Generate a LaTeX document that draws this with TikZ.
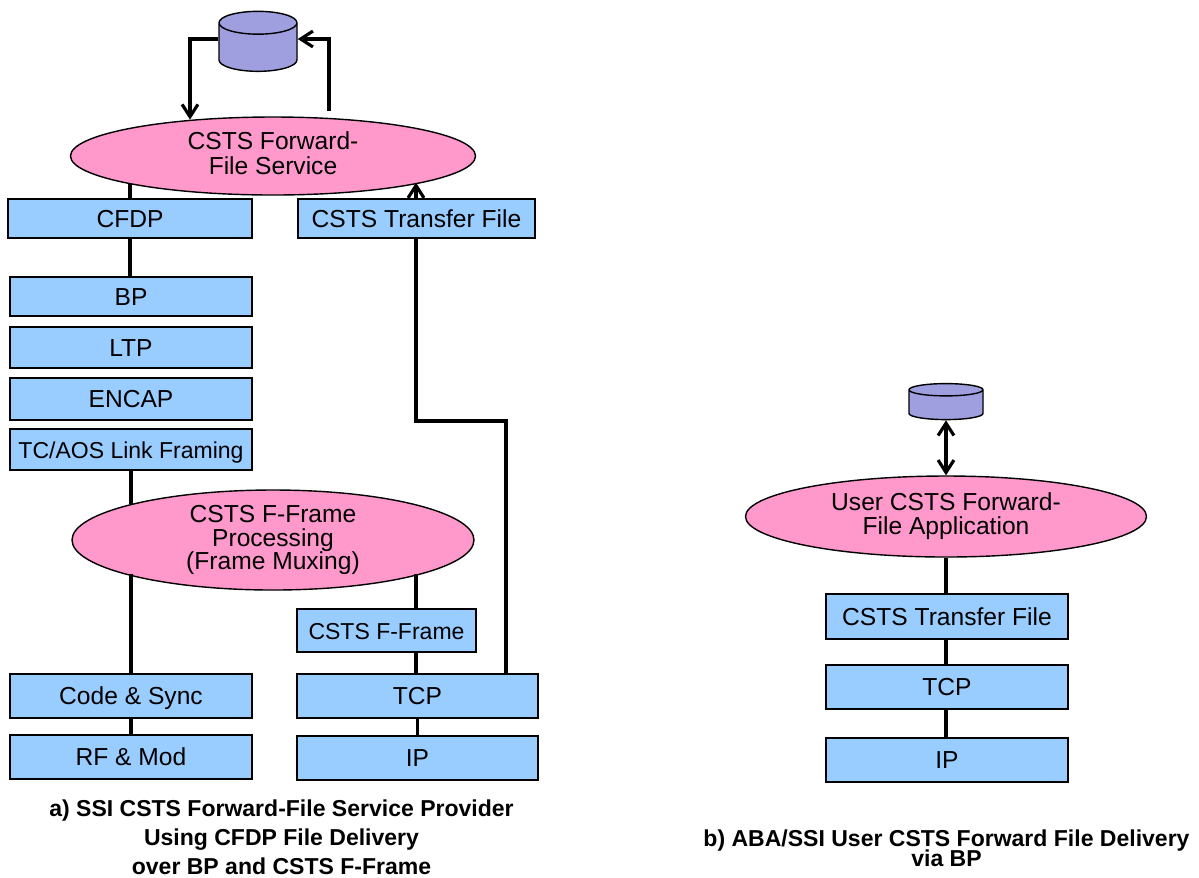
\documentclass[tikz,border=0pt]{standalone}
\usepackage{fontspec}
\setmainfont{Liberation Sans}
\usetikzlibrary{calc,arrows.meta,shapes.geometric}
\definecolor{layerblue}{HTML}{99CCFF}
\definecolor{procpink}{HTML}{FF99CC}
\definecolor{storeblue}{HTML}{9F9FDF}
\setlength{\lineskiplimit}{-20pt}
\tikzset{
  >={Straight Barb[length=7pt,width=9pt,line width=1.8pt]},
  layer/.style={draw=black,line width=0.8pt,fill=layerblue,inner sep=0pt,text height=9.8pt,text depth=0pt,font=\fontsize{14}{15}\selectfont},
  proc/.style={ellipse,draw=black,line width=0.8pt,fill=procpink,inner sep=0pt,align=center,font=\fontsize{14}{14.7}\selectfont},
  store/.style={cylinder,shape border rotate=90,draw=black,line width=0.8pt,inner sep=5pt,cylinder uses custom fill,cylinder body fill=storeblue,cylinder end fill=storeblue},
  link/.style={line width=1.9pt,black},
  caption/.style={align=center,inner sep=0pt,font=\fontsize{13.1}{16.5}\bfseries\selectfont},
}
\begin{document}
\begin{tikzpicture}[x=0.02cm,y=-0.02cm]
     \useasboundingbox (0,0) rectangle (1199,877);

     % left stack, provider side
     \node[store,minimum width=78*0.02cm,minimum height=60*0.02cm,shape aspect=1.3] (dbA) at (258,51) {};
     \node[proc,minimum width=405*0.02cm,minimum height=78*0.02cm,text depth=3.4pt] (svcA) at (273,156) {CSTS Forward-\\File Service};
     \node[layer,minimum width=244*0.02cm,minimum height=39*0.02cm] (cfdp) at (130,218.5) {CFDP};
     \node[layer,minimum width=237*0.02cm,minimum height=39*0.02cm] (fileA) at (416.5,218.5) {CSTS Transfer File};
     \node[layer,minimum width=242*0.02cm,minimum height=39*0.02cm] (bp) at (131,296.5) {BP};
     \node[layer,minimum width=242*0.02cm,minimum height=41*0.02cm] (ltp) at (131,347.5) {LTP};
     \node[layer,minimum width=242*0.02cm,minimum height=42*0.02cm] (encap) at (131,399) {ENCAP};
     \node[layer,minimum width=242*0.02cm,minimum height=41*0.02cm,font=\fontsize{13.1}{15}\selectfont] (framing) at (131,449.5) {TC/AOS Link Framing};
     \node[proc,minimum width=402*0.02cm,minimum height=100*0.02cm,font=\fontsize{14}{13.4}\selectfont] (muxA) at (273,540) {CSTS F-Frame\\Processing\\(Frame Muxing)};
     \node[layer,minimum width=179*0.02cm,minimum height=43*0.02cm,font=\fontsize{13.1}{15}\selectfont] (fframe) at (386.5,630.5) {CSTS F-Frame};
     \node[layer,minimum width=242*0.02cm,minimum height=44*0.02cm] (code) at (131,696) {Code \& Sync};
     \node[layer,minimum width=242*0.02cm,minimum height=44*0.02cm] (rf) at (131,757) {RF \& Mod};
     \node[layer,minimum width=241*0.02cm,minimum height=44*0.02cm] (tcpA) at (417.5,696) {TCP};
     \node[layer,minimum width=241*0.02cm,minimum height=44*0.02cm] (ipA) at (417.5,758) {IP};

     % right stack, user side
     \node[store,minimum width=74*0.02cm,minimum height=36*0.02cm,shape aspect=0.7] (dbB) at (946,407) {};
     \node[proc,minimum width=401*0.02cm,minimum height=81*0.02cm,font=\fontsize{14}{13.7}\selectfont] (svcB) at (946,516.5) {User CSTS Forward-\\File Application};
     \node[layer,minimum width=242*0.02cm,minimum height=45*0.02cm] (fileB) at (947,616.5) {CSTS Transfer File};
     \node[layer,minimum width=242*0.02cm,minimum height=44*0.02cm] (tcpB) at (947,687) {TCP};
     \node[layer,minimum width=242*0.02cm,minimum height=44*0.02cm] (ipB) at (947,760) {IP};

     \node[caption] (capA) at (281.5,837) {a) SSI CSTS Forward-File Service Provider\\Using CFDP File Delivery\\over BP and CSTS F-Frame};
     \node[caption,font=\fontsize{13.1}{11.4}\bfseries\selectfont] (capB) at (946.5,848) {b) ABA/SSI User CSTS Forward File Delivery\\via BP};

     \coordinate (inA) at (190,39);
     \coordinate (outA) at (329,39);
     \coordinate (upA) at (416,421);
     \coordinate (upB) at (506,421);

     \draw[->,link] (dbA.west |- inA) -- (inA) -- (inA |- svcA.156.8);
     \draw[->,link,shorten <=4pt] (outA |- svcA.33.8) -- (outA) -- (dbA.east |- outA);
     \draw[link] (cfdp.north) -- (cfdp.north |- svcA.190.9);
     \draw[->,link] (upA |- fileA.north) -- (upA |- svcA.-10.9);
     \draw[link] (cfdp.south) -- (cfdp.south |- bp.north);
     \draw[link] (framing.south) -- (framing.south |- muxA.166.2);
     \draw[link] (code.north) -- (code.north |- muxA.193.8);
     \draw[link] (code.south) -- (rf.north);
     \draw[link] (upA |- fframe.north) -- (upA |- muxA.-13.8);
     \draw[link] (upA |- fframe.south) -- (upA |- tcpA.north);
     \draw[link] (tcpA.south) -- (ipA.north);
     \draw[link] (upB |- tcpA.north) -- (upB) -- (upA) -- (upA |- fileA.south);

     \draw[<->,link] (dbB.south) -- (svcB.north);
     \draw[link] (fileB.north -| svcB.south) -- (svcB.south);
     \draw[link] (fileB.south -| svcB.south) -- (tcpB.north -| svcB.south);
     \draw[link] (tcpB.south -| svcB.south) -- (ipB.north -| svcB.south);
\end{tikzpicture}
\end{document}
